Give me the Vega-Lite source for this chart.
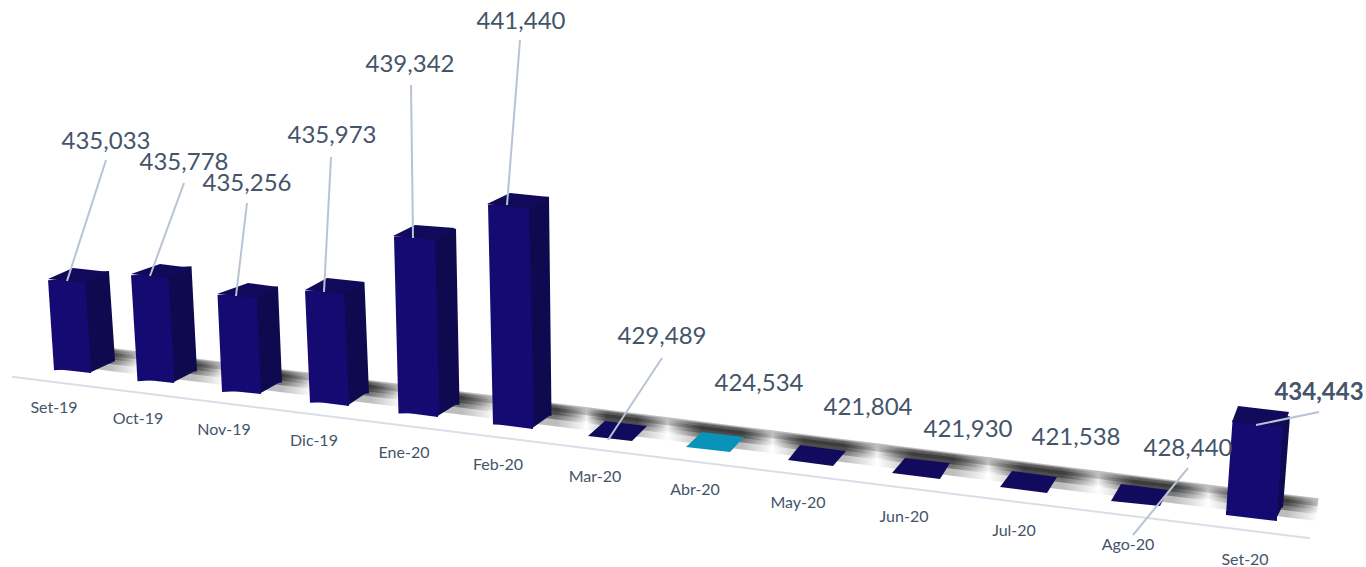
{"$schema":"https://vega.github.io/schema/vega-lite/v6.json","width":1366,"height":567,"padding":0,"autosize":"none","background":"white","config":{"view":{"stroke":null}},
"datasets":{"bars":[{"month":"Set-19","order":0,"tip":0.5,"value":435033},{"month":"Oct-19","order":1,"tip":1.5,"value":435778},{"month":"Nov-19","order":2,"tip":2.5,"value":435256},{"month":"Dic-19","order":3,"tip":3.5,"value":435973},{"month":"Ene-20","order":4,"tip":4.5,"value":439342},{"month":"Feb-20","order":5,"tip":5.5,"value":441440},{"month":"Mar-20","order":6,"tip":6.5,"value":429489},{"month":"Abr-20","order":7,"tip":7.5,"value":424534},{"month":"May-20","order":8,"tip":8.5,"value":421804},{"month":"Jun-20","order":9,"tip":9.5,"value":421930},{"month":"Jul-20","order":10,"tip":10.5,"value":421538},{"month":"Ago-20","order":11,"tip":11.5,"value":428440},{"month":"Set-20","order":12,"tip":12.5,"value":434443}],"band":[{"order":0},{"order":12.8}],"floor":[{"order":-0.52},{"order":12.73}]},
"resolve":{"scale":{"x":"independent","y":"independent","yOffset":"independent","size":"independent","shape":"independent"}},
"layer":[
{"data":{"name":"floor"},"mark":{"type":"line","stroke":"#d9dfe8","strokeWidth":2,"yOffset":13},"encoding":{"x":{"field":"order","type":"quantitative","axis":null,"scale":{"domain":[0,1,2,3,4,5,6,7,8,9,10,11,12],"range":[55,138,222,310,400,494,588,686,788,892,1000,1111,1226]}},"y":{"field":"order","type":"quantitative","axis":null,"scale":{"domain":[0,1,2,3,4,5,6,7,8,9,10,11,12],"range":[369,379,390,401,412,424,436,447,460,473,487,501,515]}}}},
{"data":{"name":"band"},"mark":{"type":"line","strokeWidth":14,"yOffset":-21,"stroke":"rgba(0,0,0,0.06)"},"encoding":{"x":{"field":"order","type":"quantitative","axis":null,"scale":{"domain":[0,1,2,3,4,5,6,7,8,9,10,11,12],"range":[55,138,222,310,400,494,588,686,788,892,1000,1111,1226]}},"y":{"field":"order","type":"quantitative","axis":null,"scale":{"domain":[0,1,2,3,4,5,6,7,8,9,10,11,12],"range":[369,379,390,401,412,424,436,447,460,473,487,501,515]}}}},
{"data":{"name":"band"},"mark":{"type":"line","strokeWidth":8,"yOffset":-24,"stroke":"rgba(0,0,0,0.2)"},"encoding":{"x":{"field":"order","type":"quantitative","axis":null,"scale":{"domain":[0,1,2,3,4,5,6,7,8,9,10,11,12],"range":[55,138,222,310,400,494,588,686,788,892,1000,1111,1226]}},"y":{"field":"order","type":"quantitative","axis":null,"scale":{"domain":[0,1,2,3,4,5,6,7,8,9,10,11,12],"range":[369,379,390,401,412,424,436,447,460,473,487,501,515]}}}},
{"data":{"name":"band"},"mark":{"type":"line","strokeWidth":22,"yOffset":-16,"stroke":{"gradient":"linear","x1":0,"y1":0,"x2":1,"y2":0,"stops":[{"offset":0,"color":"rgba(0,0,0,0.26)"},{"offset":0.044,"color":"rgba(0,0,0,0.26)"},{"offset":0.066,"color":"rgba(0,0,0,0)"},{"offset":0.087,"color":"rgba(0,0,0,0.26)"},{"offset":0.111,"color":"rgba(0,0,0,0.26)"},{"offset":0.133,"color":"rgba(0,0,0,0)"},{"offset":0.156,"color":"rgba(0,0,0,0.26)"},{"offset":0.18,"color":"rgba(0,0,0,0.26)"},{"offset":0.203,"color":"rgba(0,0,0,0)"},{"offset":0.226,"color":"rgba(0,0,0,0.26)"},{"offset":0.25,"color":"rgba(0,0,0,0.26)"},{"offset":0.274,"color":"rgba(0,0,0,0)"},{"offset":0.298,"color":"rgba(0,0,0,0.26)"},{"offset":0.322,"color":"rgba(0,0,0,0.26)"},{"offset":0.349,"color":"rgba(0,0,0,0)"},{"offset":0.373,"color":"rgba(0,0,0,0.26)"},{"offset":0.397,"color":"rgba(0,0,0,0.26)"},{"offset":0.421,"color":"rgba(0,0,0,0)"},{"offset":0.437,"color":"rgba(0,0,0,0.26)"},{"offset":0.461,"color":"rgba(0,0,0,0.26)"},{"offset":0.485,"color":"rgba(0,0,0,0)"},{"offset":0.512,"color":"rgba(0,0,0,0.26)"},{"offset":0.544,"color":"rgba(0,0,0,0.26)"},{"offset":0.568,"color":"rgba(0,0,0,0)"},{"offset":0.593,"color":"rgba(0,0,0,0.26)"},{"offset":0.625,"color":"rgba(0,0,0,0.26)"},{"offset":0.651,"color":"rgba(0,0,0,0)"},{"offset":0.679,"color":"rgba(0,0,0,0.26)"},{"offset":0.711,"color":"rgba(0,0,0,0.26)"},{"offset":0.739,"color":"rgba(0,0,0,0)"},{"offset":0.766,"color":"rgba(0,0,0,0.26)"},{"offset":0.798,"color":"rgba(0,0,0,0.26)"},{"offset":0.826,"color":"rgba(0,0,0,0)"},{"offset":0.854,"color":"rgba(0,0,0,0.26)"},{"offset":0.886,"color":"rgba(0,0,0,0.26)"},{"offset":0.913,"color":"rgba(0,0,0,0)"},{"offset":0.941,"color":"rgba(0,0,0,0.26)"},{"offset":0.975,"color":"rgba(0,0,0,0.26)"},{"offset":1,"color":"rgba(0,0,0,0)"}]}},"encoding":{"x":{"field":"order","type":"quantitative","axis":null,"scale":{"domain":[0,1,2,3,4,5,6,7,8,9,10,11,12],"range":[55,138,222,310,400,494,588,686,788,892,1000,1111,1226]}},"y":{"field":"order","type":"quantitative","axis":null,"scale":{"domain":[0,1,2,3,4,5,6,7,8,9,10,11,12],"range":[369,379,390,401,412,424,436,447,460,473,487,501,515]}}}},
{"data":{"name":"band"},"mark":{"type":"line","strokeWidth":14,"yOffset":-19,"stroke":{"gradient":"linear","x1":0,"y1":0,"x2":1,"y2":0,"stops":[{"offset":0,"color":"rgba(0,0,0,0.35)"},{"offset":0.044,"color":"rgba(0,0,0,0.35)"},{"offset":0.066,"color":"rgba(0,0,0,0)"},{"offset":0.087,"color":"rgba(0,0,0,0.35)"},{"offset":0.111,"color":"rgba(0,0,0,0.35)"},{"offset":0.133,"color":"rgba(0,0,0,0)"},{"offset":0.156,"color":"rgba(0,0,0,0.35)"},{"offset":0.18,"color":"rgba(0,0,0,0.35)"},{"offset":0.203,"color":"rgba(0,0,0,0)"},{"offset":0.226,"color":"rgba(0,0,0,0.35)"},{"offset":0.25,"color":"rgba(0,0,0,0.35)"},{"offset":0.274,"color":"rgba(0,0,0,0)"},{"offset":0.298,"color":"rgba(0,0,0,0.35)"},{"offset":0.322,"color":"rgba(0,0,0,0.35)"},{"offset":0.349,"color":"rgba(0,0,0,0)"},{"offset":0.373,"color":"rgba(0,0,0,0.35)"},{"offset":0.397,"color":"rgba(0,0,0,0.35)"},{"offset":0.421,"color":"rgba(0,0,0,0)"},{"offset":0.437,"color":"rgba(0,0,0,0.35)"},{"offset":0.461,"color":"rgba(0,0,0,0.35)"},{"offset":0.485,"color":"rgba(0,0,0,0)"},{"offset":0.512,"color":"rgba(0,0,0,0.35)"},{"offset":0.544,"color":"rgba(0,0,0,0.35)"},{"offset":0.568,"color":"rgba(0,0,0,0)"},{"offset":0.593,"color":"rgba(0,0,0,0.35)"},{"offset":0.625,"color":"rgba(0,0,0,0.35)"},{"offset":0.651,"color":"rgba(0,0,0,0)"},{"offset":0.679,"color":"rgba(0,0,0,0.35)"},{"offset":0.711,"color":"rgba(0,0,0,0.35)"},{"offset":0.739,"color":"rgba(0,0,0,0)"},{"offset":0.766,"color":"rgba(0,0,0,0.35)"},{"offset":0.798,"color":"rgba(0,0,0,0.35)"},{"offset":0.826,"color":"rgba(0,0,0,0)"},{"offset":0.854,"color":"rgba(0,0,0,0.35)"},{"offset":0.886,"color":"rgba(0,0,0,0.35)"},{"offset":0.913,"color":"rgba(0,0,0,0)"},{"offset":0.941,"color":"rgba(0,0,0,0.35)"},{"offset":0.975,"color":"rgba(0,0,0,0.35)"},{"offset":1,"color":"rgba(0,0,0,0)"}]}},"encoding":{"x":{"field":"order","type":"quantitative","axis":null,"scale":{"domain":[0,1,2,3,4,5,6,7,8,9,10,11,12],"range":[55,138,222,310,400,494,588,686,788,892,1000,1111,1226]}},"y":{"field":"order","type":"quantitative","axis":null,"scale":{"domain":[0,1,2,3,4,5,6,7,8,9,10,11,12],"range":[369,379,390,401,412,424,436,447,460,473,487,501,515]}}}},
{"data":{"name":"band"},"mark":{"type":"line","strokeWidth":7,"yOffset":-20,"stroke":{"gradient":"linear","x1":0,"y1":0,"x2":1,"y2":0,"stops":[{"offset":0,"color":"rgba(0,0,0,0.35)"},{"offset":0.044,"color":"rgba(0,0,0,0.35)"},{"offset":0.066,"color":"rgba(0,0,0,0)"},{"offset":0.087,"color":"rgba(0,0,0,0.35)"},{"offset":0.111,"color":"rgba(0,0,0,0.35)"},{"offset":0.133,"color":"rgba(0,0,0,0)"},{"offset":0.156,"color":"rgba(0,0,0,0.35)"},{"offset":0.18,"color":"rgba(0,0,0,0.35)"},{"offset":0.203,"color":"rgba(0,0,0,0)"},{"offset":0.226,"color":"rgba(0,0,0,0.35)"},{"offset":0.25,"color":"rgba(0,0,0,0.35)"},{"offset":0.274,"color":"rgba(0,0,0,0)"},{"offset":0.298,"color":"rgba(0,0,0,0.35)"},{"offset":0.322,"color":"rgba(0,0,0,0.35)"},{"offset":0.349,"color":"rgba(0,0,0,0)"},{"offset":0.373,"color":"rgba(0,0,0,0.35)"},{"offset":0.397,"color":"rgba(0,0,0,0.35)"},{"offset":0.421,"color":"rgba(0,0,0,0)"},{"offset":0.437,"color":"rgba(0,0,0,0.35)"},{"offset":0.461,"color":"rgba(0,0,0,0.35)"},{"offset":0.485,"color":"rgba(0,0,0,0)"},{"offset":0.512,"color":"rgba(0,0,0,0.35)"},{"offset":0.544,"color":"rgba(0,0,0,0.35)"},{"offset":0.568,"color":"rgba(0,0,0,0)"},{"offset":0.593,"color":"rgba(0,0,0,0.35)"},{"offset":0.625,"color":"rgba(0,0,0,0.35)"},{"offset":0.651,"color":"rgba(0,0,0,0)"},{"offset":0.679,"color":"rgba(0,0,0,0.35)"},{"offset":0.711,"color":"rgba(0,0,0,0.35)"},{"offset":0.739,"color":"rgba(0,0,0,0)"},{"offset":0.766,"color":"rgba(0,0,0,0.35)"},{"offset":0.798,"color":"rgba(0,0,0,0.35)"},{"offset":0.826,"color":"rgba(0,0,0,0)"},{"offset":0.854,"color":"rgba(0,0,0,0.35)"},{"offset":0.886,"color":"rgba(0,0,0,0.35)"},{"offset":0.913,"color":"rgba(0,0,0,0)"},{"offset":0.941,"color":"rgba(0,0,0,0.35)"},{"offset":0.975,"color":"rgba(0,0,0,0.35)"},{"offset":1,"color":"rgba(0,0,0,0)"}]}},"encoding":{"x":{"field":"order","type":"quantitative","axis":null,"scale":{"domain":[0,1,2,3,4,5,6,7,8,9,10,11,12],"range":[55,138,222,310,400,494,588,686,788,892,1000,1111,1226]}},"y":{"field":"order","type":"quantitative","axis":null,"scale":{"domain":[0,1,2,3,4,5,6,7,8,9,10,11,12],"range":[369,379,390,401,412,424,436,447,460,473,487,501,515]}}}},
{"data":{"name":"bars"},"transform":[{"filter":{"field":"order","lte":5}}],"mark":{"type":"rule","stroke":"#0f0a50","y2Offset":-8},"encoding":{"x":{"field":"tip","type":"quantitative","axis":null,"scale":{"domain":[0,0.5,1,1.5,2,2.5,3,3.5,4,4.5,5,5.5],"range":[101.5,95.5,184,178.5,270,266,357.5,353,447.5,444,540.5,538]}},"x2":{"field":"order"},"y":{"field":"order","type":"ordinal","axis":null,"scale":{"type":"point","padding":0,"domain":[0,1,2,3,4,5],"range":[369,424]}},"y2":{"field":"order"},"yOffset":{"field":"value","type":"quantitative","scale":{"domain":[430800,435033,435256,435778,435973,439342,441440],"range":[-7,-97,-104,-113,-119,-184,-227],"clamp":true}},"size":{"field":"order","type":"quantitative","legend":null,"scale":{"domain":[0,1,2,3,4,5],"range":[27,26,24,23,24,22]}}}},
{"data":{"name":"bars"},"transform":[{"filter":{"field":"order","lte":5}}],"mark":{"type":"point","filled":true,"opacity":1,"size":4,"fill":"#0f0a50"},"encoding":{"x":{"field":"order","type":"quantitative","axis":null,"scale":{"domain":[0,1,2,3,4,5],"range":[55,138,222,310,400,494]}},"y":{"field":"order","type":"quantitative","axis":null,"scale":{"domain":[0,1,2,3,4,5],"range":[369,379,390,401,412,424]}},"shape":{"field":"order","type":"nominal","legend":null,"scale":{"domain":[0,1,2,3,4,5],"range":["M34,4L60,-8L60,-10L34,-10Z","M34,4L59,-9L59,-10L34,-10Z","M37,4L60,-9L60,-10L37,-10Z","M37,5L59,-10L37,-10Z","M36,5L60,-10L36,-10Z","M37,5L58,-10L37,-10Z"]}}}},
{"data":{"name":"bars"},"transform":[{"filter":{"field":"order","lte":5}}],"mark":{"type":"rule","stroke":"#140a72"},"encoding":{"x":{"field":"tip","type":"quantitative","axis":null,"scale":{"domain":[0,0.5,1,1.5,2,2.5,3,3.5,4,4.5,5,5.5],"range":[72.5,66.5,156,149.5,241.5,237,329.5,324.5,419,414.5,513.5,508.5]}},"x2":{"field":"order"},"y":{"field":"order","type":"ordinal","axis":null,"scale":{"type":"point","padding":0,"domain":[0,1,2,3,4,5],"range":[369,424]}},"y2":{"field":"order"},"yOffset":{"field":"value","type":"quantitative","scale":{"domain":[430800,435033,435256,435778,435973,439342,441440],"range":[0,-90,-97,-106,-112,-177,-220],"clamp":true}},"size":{"field":"order","type":"quantitative","legend":null,"scale":{"domain":[0,1,2,3,4,5],"range":[37,37,39,39,41,41]}}}},
{"data":{"name":"bars"},"transform":[{"filter":{"field":"order","lte":5}}],"mark":{"type":"point","filled":true,"opacity":1,"size":4,"fill":"#140a72"},"encoding":{"x":{"field":"order","type":"quantitative","axis":null,"scale":{"domain":[0,1,2,3,4,5],"range":[55,138,222,310,400,494]}},"y":{"field":"order","type":"quantitative","axis":null,"scale":{"domain":[0,1,2,3,4,5],"range":[369,379,390,401,412,424]}},"shape":{"field":"order","type":"nominal","legend":null,"scale":{"domain":[0,1,2,3,4,5],"range":["M0,0L36,4L36,-4L0,-4Z","M0,0L36,4L36,-4L0,-4Z","M0,0L39,4L39,-4L0,-4Z","M0,0L39,5L39,-4L0,-4Z","M0,0L38,5L38,-4L0,-4Z","M0,0L39,5L39,-4L0,-4Z"]}}}},
{"data":{"name":"bars"},"transform":[{"filter":{"field":"order","lte":5}}],"mark":{"type":"point","filled":true,"opacity":1,"size":4,"fill":"#110a5a"},"encoding":{"x":{"field":"order","type":"quantitative","axis":null,"scale":{"domain":[0,1,2,3,4,5],"range":[48,131,217,305,393,487]}},"y":{"field":"order","type":"ordinal","axis":null,"scale":{"type":"point","padding":0,"domain":[0,1,2,3,4,5],"range":[369,424]}},"yOffset":{"field":"value","type":"quantitative","scale":{"domain":[430800,435033,435256,435778,435973,439342,441440],"range":[0,-90,-97,-106,-112,-177,-220],"clamp":true}},"shape":{"field":"order","type":"nominal","legend":null,"scale":{"domain":[0,1,2,3,4,5],"range":["M0,0L37,4L61,-7L25,-11Z","M0,0L37,4L61,-6L29,-10Z","M0,0L40,4L61,-7L31,-11Z","M0,0L39,4L60,-8L22,-12Z","M0,0L43,4L62,-8L22,-11Z","M0,0L43,5L62,-7L23,-11Z"]}}}},
{"data":{"name":"bars"},"transform":[{"filter":{"field":"order","equal":12}}],"mark":{"type":"rule","stroke":"#0f0a50","y2Offset":-8},"encoding":{"x":{"field":"tip","type":"quantitative","axis":null,"scale":{"domain":[12,12.5],"range":[1278,1285]}},"x2":{"field":"order"},"y":{"field":"order","type":"ordinal","axis":null,"scale":{"type":"point","padding":0,"domain":[12],"range":[515,515]}},"y2":{"field":"order"},"yOffset":{"field":"value","type":"quantitative","scale":{"domain":[430800,434443],"range":[-6,-99],"clamp":true}},"size":{"value":10}}},
{"data":{"name":"bars"},"transform":[{"filter":{"field":"order","equal":12}}],"mark":{"type":"point","filled":true,"opacity":1,"size":4,"fill":"#0f0a50","shape":"M49,6L56,-8L49,-10Z"},"encoding":{"x":{"field":"order","type":"quantitative","axis":null,"scale":{"domain":[11,12],"range":[1111,1226]}},"y":{"field":"order","type":"quantitative","axis":null,"scale":{"domain":[11,12],"range":[501,515]}}}},
{"data":{"name":"bars"},"transform":[{"filter":{"field":"order","equal":12}}],"mark":{"type":"rule","stroke":"#140a72"},"encoding":{"x":{"field":"tip","type":"quantitative","axis":null,"scale":{"domain":[12,12.5],"range":[1251.5,1258]}},"x2":{"field":"order"},"y":{"field":"order","type":"ordinal","axis":null,"scale":{"type":"point","padding":0,"domain":[12],"range":[515,515]}},"y2":{"field":"order"},"yOffset":{"field":"value","type":"quantitative","scale":{"domain":[430800,434443],"range":[0,-93],"clamp":true}},"size":{"value":51}}},
{"data":{"name":"bars"},"transform":[{"filter":{"field":"order","equal":12}}],"mark":{"type":"point","filled":true,"opacity":1,"size":4,"fill":"#140a72","shape":"M0,0L51,6L51,-4L0,-4Z"},"encoding":{"x":{"field":"order","type":"quantitative","axis":null,"scale":{"domain":[11,12],"range":[1111,1226]}},"y":{"field":"order","type":"quantitative","axis":null,"scale":{"domain":[11,12],"range":[501,515]}}}},
{"data":{"name":"bars"},"transform":[{"filter":{"field":"order","equal":12}}],"mark":{"type":"point","filled":true,"opacity":1,"size":4,"fill":"#110a5a","shape":"M0,0L52,5L57,-10L6,-16Z"},"encoding":{"x":{"field":"order","type":"quantitative","axis":null,"scale":{"domain":[11,12],"range":[1120,1232]}},"y":{"field":"order","type":"ordinal","axis":null,"scale":{"type":"point","padding":0,"domain":[12],"range":[515,515]}},"yOffset":{"field":"value","type":"quantitative","scale":{"domain":[430800,434443],"range":[0,-93],"clamp":true}}}},
{"data":{"name":"bars"},"transform":[{"filter":{"field":"order","range":[6,11]}}],"mark":{"type":"point","filled":true,"opacity":1,"size":4},"encoding":{"x":{"field":"order","type":"quantitative","axis":null,"scale":{"domain":[6,7,8,9,10,11],"range":[588,686,788,892,1000,1111]}},"y":{"field":"order","type":"quantitative","axis":null,"scale":{"domain":[6,7,8,9,10,11],"range":[436,447,460,473,487,501]}},"fill":{"condition":{"test":"datum.month==='Abr-20'","value":"#0a93b8"},"value":"#120a5c"},"shape":{"field":"order","type":"nominal","legend":null,"scale":{"domain":[6,7,8,9,10,11],"range":["M0,0L44,5L59,-10L17,-15Z","M0,0L44,5L58,-10L16,-15Z","M0,0L45,6L58,-9L12,-15Z","M0,0L48,6L58,-10L13,-15Z","M0,0L47,6L57,-10L12,-16Z","M0,0L49,5L57,-11L10,-17Z"]}}}},
{"data":{"name":"bars"},"transform":[{"filter":{"not":{"field":"order","range":[7,10]}}}],"mark":{"type":"rule","stroke":"#b8c4d4","strokeWidth":2},"encoding":{"x":{"field":"tip","type":"quantitative","axis":null,"scale":{"domain":[0,0.5,1,1.5,2,2.5,3,3.5,4,4.5,5,5.5,6,6.5,7,7.5,8,8.5,9,9.5,10,10.5,11,11.5,12,12.5],"range":[67,106,150,184,236,247,324,331,413,411,507,520,608,662,700,760,800,868,900,968,1000,1076,1133,1188,1256,1319]}},"x2":{"field":"order"},"y":{"field":"tip","type":"quantitative","axis":null,"scale":{"domain":[0,0.5,1,1.5,2,2.5,3,3.5,4,4.5,5,5.5,6,6.5,7,7.5,8,8.5,9,9.5,10,10.5,11,11.5,12,12.5],"range":[281,160,276,183,296,203,292,157,238,85,205,40,440,358,450,370,460,380,470,390,480,400,535,468,425,412]}},"y2":{"field":"order"}}},
{"data":{"name":"bars"},"mark":{"type":"text","font":"Lato","fontSize":16,"fill":"#44546a"},"encoding":{"x":{"field":"order","type":"quantitative","axis":null,"scale":{"domain":[0,1,2,3,4,5,6,7,8,9,10,11,12],"range":[54,138,224,314,404,498,595,695,798,904,1014,1128,1245]}},"y":{"field":"order","type":"quantitative","axis":null,"scale":{"domain":[0,1,2,3,4,5,6,7,8,9,10,11,12],"range":[408,419,430,441,453,465,477,490,503,517,531,545,560]}},"text":{"field":"month"}}},
{"data":{"name":"bars"},"transform":[{"filter":{"field":"order","lte":11}}],"mark":{"type":"text","font":"Lato","fontSize":24,"fill":"#44546a"},"encoding":{"x":{"field":"order","type":"quantitative","axis":null,"scale":{"domain":[0,1,2,3,4,5,6,7,8,9,10,11],"range":[106,184,247,332,410,521,662,759,868,968,1076,1188]}},"y":{"field":"order","type":"quantitative","axis":null,"scale":{"domain":[0,1,2,3,4,5,6,7,8,9,10,11],"range":[142,163,184,136,65,22,337,384,408,430,438,449]}},"text":{"field":"value","type":"quantitative","format":",d"}}},
{"data":{"name":"bars"},"transform":[{"filter":{"field":"order","equal":12}}],"mark":{"type":"text","font":"Lato","fontSize":24,"fontWeight":"bold","fill":"#44546a"},"encoding":{"x":{"field":"order","type":"quantitative","axis":null,"scale":{"domain":[11,12],"range":[1188,1319]}},"y":{"field":"order","type":"quantitative","axis":null,"scale":{"domain":[11,12],"range":[449,393]}},"text":{"field":"value","type":"quantitative","format":",d"}}}
]}
